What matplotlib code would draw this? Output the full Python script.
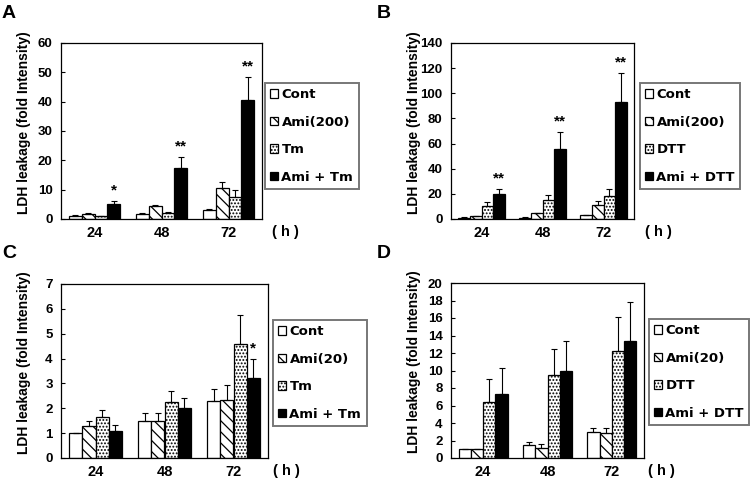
import numpy as np
import matplotlib.pyplot as plt

plt.rcParams['font.family'] = ['Liberation Sans', 'DejaVu Sans']
plt.rcParams['font.weight'] = 'bold'
plt.rcParams['hatch.linewidth'] = 0.9

hours = ['24', '48', '72']

# panel A: amiodarone 200 + tunicamycin
a_labels = ['Cont', 'Ami(200)', 'Tm', 'Ami + Tm']
a_vals = [[1.0, 1.8, 3.2], [1.6, 4.5, 10.5], [0.9, 2.2, 7.5], [5.2, 17.5, 40.5]]
a_err = [[0.2, 0.2, 0.3], [0.3, 0.4, 2.2], [0.2, 0.3, 2.3], [0.8, 3.8, 7.8]]
a_stars = ['*', '**', '**']

# panel B: amiodarone 200 + DTT
b_labels = ['Cont', 'Ami(200)', 'DTT', 'Ami + DTT']
b_vals = [[1.0, 1.0, 3.0], [2.0, 4.5, 11.5], [10.5, 15.0, 18.5], [20.0, 56.0, 93.0]]
b_err = [[0.3, 0.3, 0.5], [0.5, 0.6, 3.0], [3.0, 4.0, 5.5], [3.5, 13.0, 23.0]]
b_stars = ['**', '**', '**']

# panel C: amiodarone 20 + tunicamycin
c_labels = ['Cont', 'Ami(20)', 'Tm', 'Ami + Tm']
c_vals = [[1.0, 1.5, 2.3], [1.27, 1.5, 2.33], [1.63, 2.25, 4.57], [1.1, 2.0, 3.23]]
c_err = [[0.0, 0.3, 0.47], [0.22, 0.33, 0.6], [0.3, 0.45, 1.17], [0.22, 0.43, 0.77]]
c_stars = ['', '', '*']

# panel D: amiodarone 20 + DTT
d_labels = ['Cont', 'Ami(20)', 'DTT', 'Ami + DTT']
d_vals = [[1.0, 1.5, 3.0], [1.0, 1.15, 2.9], [6.4, 9.5, 12.2], [7.3, 10.0, 13.4]]
d_err = [[0.0, 0.3, 0.45], [0.0, 0.4, 0.55], [2.6, 3.0, 3.9], [3.0, 3.4, 4.4]]
d_stars = ['', '', '']

colors = ['white', 'white', 'white', 'black']
hatches = [None, '\\\\\\', '.....', None]

W, H = 750, 482
fig = plt.figure(figsize=(7.5, 4.82), dpi=100)


def panel(letter, box, corner, legbox, hpos, labels, vals, errs, stars, ymax, ystep):
    l, t, r, b = box
    ax = fig.add_axes([l / W, 1 - b / H, (r - l) / W, (b - t) / H])
    x = np.arange(len(hours))
    bw = 0.19
    for i in range(4):
        pos = x + (i - 1.5) * bw
        ax.bar(pos, vals[i], bw, color=colors[i], edgecolor='black',
               hatch=hatches[i], linewidth=0.9, label=labels[i],
               yerr=[np.zeros(3), errs[i]],
               error_kw=dict(ecolor='black', elinewidth=0.8, capsize=2.5, capthick=0.8))
    for j, s in enumerate(stars):
        if s:
            top = vals[3][j] + errs[3][j]
            ax.text(x[j] + 1.5 * bw, top + ymax * 0.02, s, ha='center', va='bottom',
                    fontsize=11, fontweight='bold')
    ax.set_xlim(-0.5, 2.5)
    ax.set_ylim(0, ymax)
    ax.set_yticks(np.arange(0, ymax + ystep / 2, ystep))
    ax.set_xticks(x)
    ax.set_xticklabels(hours)
    ax.tick_params(axis='x', length=0, pad=5, labelsize=10.5)
    ax.tick_params(axis='y', direction='in', length=3, width=0.8, labelsize=9.5, pad=6)
    for sp in ax.spines.values():
        sp.set_linewidth(0.9)
    ax.set_ylabel('LDH leakage (fold Intensity)', fontsize=10, fontweight='bold')
    ax.yaxis.set_label_coords(-30 / (r - l), 0.55)
    fig.text(corner[0] / W, 1 - corner[1] / H, letter, fontsize=14, fontweight='bold',
             ha='left', va='center')
    fig.text(hpos / W, 1 - (b + 13) / H, '( h )', fontsize=10.5, fontweight='bold',
             ha='center', va='center')
    leg = ax.legend(loc='upper left', bbox_to_anchor=(legbox[0] / W, 1 - legbox[1] / H),
                    bbox_transform=fig.transFigure, borderaxespad=0, fancybox=False,
                    edgecolor='#777777', framealpha=1,
                    prop=dict(family='DejaVu Sans', weight='bold', size=9.5),
                    handlelength=0.6, handleheight=0.6, handletextpad=0.25,
                    labelspacing=1.1, borderpad=0.4)
    leg.get_frame().set_linewidth(1.4)
    return ax


panel('A', (61, 43, 262, 219), (2, 13), (265, 83), 285,
      a_labels, a_vals, a_err, a_stars, 60, 10)
panel('B', (451, 43, 634, 219), (377, 13), (640, 83), 658,
      b_labels, b_vals, b_err, b_stars, 140, 20)
panel('C', (61, 284, 268, 458), (2, 253), (273, 320), 286,
      c_labels, c_vals, c_err, c_stars, 7, 1)
panel('D', (451, 283, 644, 458), (377, 253), (649, 319), 661,
      d_labels, d_vals, d_err, d_stars, 20, 2)

fig.savefig('out.png', dpi=100)
